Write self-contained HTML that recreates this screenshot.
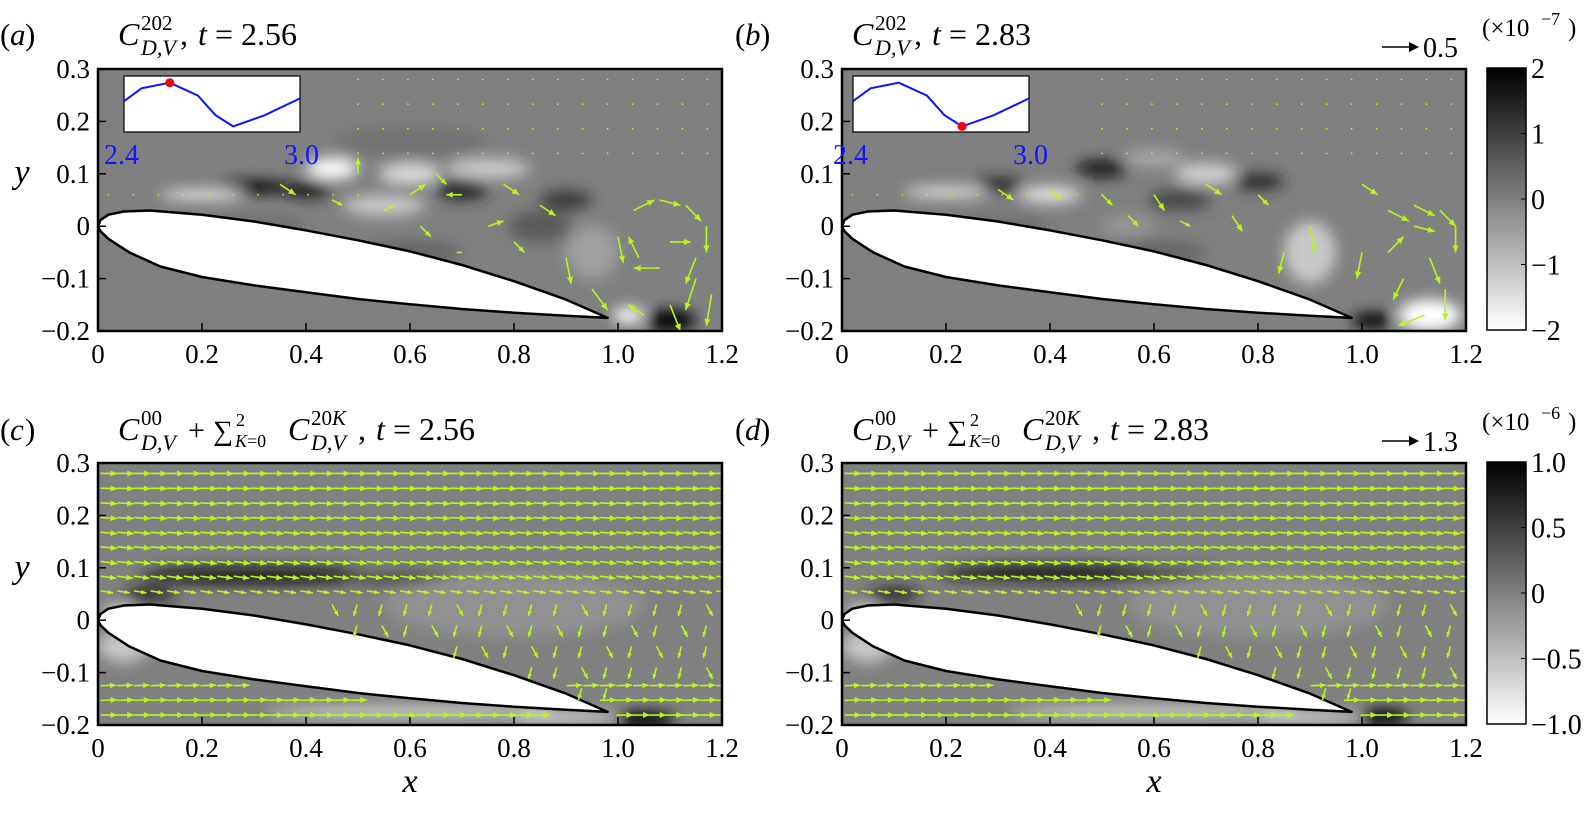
<!DOCTYPE html>
<html><head><meta charset="utf-8"><style>
body{margin:0;background:#fff}
text,tspan{font-family:"Liberation Serif","DejaVu Serif",serif}
</style></head><body>
<svg id="fig" width="1591" height="811" viewBox="0 0 1591 811" xmlns="http://www.w3.org/2000/svg" font-family="Liberation Serif, serif">
<defs>
<filter id="bl" x="-50%" y="-50%" width="200%" height="200%"><feGaussianBlur stdDeviation="7"/></filter>
<linearGradient id="cb" x1="0" y1="0" x2="0" y2="1"><stop offset="0" stop-color="#000"/><stop offset="1" stop-color="#fff"/></linearGradient>
</defs>
<g id="root"></g>
</svg>
<script>
const NS="http://www.w3.org/2000/svg";
const root=document.getElementById('root');
const xTicks=[0,0.2,0.4,0.6,0.8,1.0,1.2];
const xTickLabels=["0","0.2","0.4","0.6","0.8","1.0","1.2"];
const yTicks=[0.3,0.2,0.1,0,-0.1,-0.2];
const yTickLabels=["0.3","0.2","0.1","0","\u22120.1","\u22120.2"];
const cbTop=["2","1","0","\u22121","\u22122"];
const cbBot=["1.0","0.5","0","\u22120.5","\u22121.0"];
const insetX=[0,0.1,0.26,0.42,0.52,0.62,0.8,1];
const insetY=[0.45,0.22,0.12,0.35,0.7,0.9,0.7,0.4];
const airUpper=[[0,0],[0.005,0.012],[0.02,0.022],[0.05,0.028],[0.1,0.03],[0.2,0.022],[0.3,0.009],[0.4,-0.008],[0.5,-0.027],[0.6,-0.048],[0.7,-0.074],[0.8,-0.105],[0.9,-0.14],[0.98,-0.175]];
const airLower=[[0.98,-0.175],[0.9,-0.171],[0.8,-0.165],[0.7,-0.158],[0.6,-0.149],[0.5,-0.139],[0.4,-0.126],[0.3,-0.113],[0.2,-0.097],[0.12,-0.077],[0.06,-0.05],[0.02,-0.024],[0.005,-0.01],[0,0]];
const blobsA=[[0.3,0.075,0.07,0.012,0],[0.2,0.06,0.08,0.008,255],[0.45,0.11,0.05,0.02,255],[0.4,0.07,0.05,0.015,20],[0.6,0.1,0.06,0.02,220],[0.7,0.07,0.05,0.02,40],[0.75,0.11,0.08,0.02,200],[0.9,0.05,0.05,0.02,60],[0.55,0.04,0.08,0.02,200],[0.85,0.0,0.06,0.03,90],[1.1,-0.18,0.05,0.02,0],[1.02,-0.17,0.03,0.015,255],[0.95,-0.05,0.05,0.05,160],[0.6,0.16,0.15,0.03,115],[0.3,0.0,0.1,0.02,110],[0.6,-0.05,0.1,0.02,100]];
const blobsB=[[0.2,0.065,0.08,0.008,255],[0.3,0.08,0.05,0.012,30],[0.5,0.11,0.05,0.015,10],[0.4,0.06,0.06,0.015,230],[0.6,0.13,0.06,0.015,170],[0.7,0.1,0.06,0.02,210],[0.8,0.085,0.05,0.015,40],[0.65,0.05,0.06,0.02,70],[0.9,-0.05,0.05,0.06,200],[1.02,-0.18,0.04,0.015,0],[1.13,-0.17,0.06,0.03,255],[0.55,0.0,0.05,0.02,150],[0.3,0.0,0.1,0.02,110],[0.6,-0.05,0.1,0.02,100]];
const blobsC=[[0.3,0.085,0.22,0.014,15],[0.1,0.05,0.05,0.012,30],[0.04,0.015,0.03,0.01,255],[0.6,0.08,0.12,0.01,60],[0.8,0.03,0.25,0.06,145],[1.05,-0.19,0.06,0.015,0],[0.6,-0.175,0.28,0.008,240],[0.9,-0.185,0.1,0.008,235],[0.05,-0.05,0.05,0.03,200]];
const blobsD=[[0.4,0.09,0.22,0.014,20],[0.1,0.05,0.05,0.012,30],[0.04,0.015,0.03,0.01,255],[0.65,0.085,0.12,0.01,50],[0.8,0.03,0.25,0.06,145],[1.04,-0.185,0.05,0.015,0],[0.6,-0.175,0.28,0.008,240],[0.9,-0.185,0.1,0.008,235],[0.05,-0.05,0.05,0.03,200]];
const vortA=[[1.0,-0.02,0.01,-0.05],[1.03,0.03,0.04,0.02],[1.08,0.05,0.04,-0.01],[1.13,0.04,0.03,-0.03],[1.17,0.0,0.0,-0.05],[1.15,-0.06,-0.02,-0.05],[1.08,-0.08,-0.05,0.0],[1.04,-0.06,-0.02,0.04],[1.1,-0.03,0.04,0.0],[1.18,-0.13,-0.01,-0.06],[1.1,-0.15,0.02,-0.05],[1.05,-0.17,-0.03,0.02],[0.95,-0.12,0.03,-0.04],[0.9,-0.06,0.01,-0.05],[0.85,0.04,0.03,-0.02],[0.78,0.08,0.03,-0.02],[0.7,0.06,-0.03,0.0],[0.6,0.06,0.03,0.02],[0.5,0.1,0.0,0.03],[0.35,0.08,0.03,-0.02],[0.65,0.1,0.02,-0.02],[0.55,0.03,0.02,0.01],[0.75,0.0,0.03,0.01],[0.7,-0.05,-0.01,0.0],[0.45,0.05,0.02,-0.01],[0.62,0.0,0.02,-0.02],[0.8,-0.03,0.02,-0.02],[1.15,-0.1,-0.02,-0.06]];
const vortB=[[1.05,0.03,0.04,-0.02],[1.1,0.04,0.04,-0.02],[1.15,0.03,0.03,-0.03],[1.18,0.0,0.0,-0.05],[1.1,0.0,0.04,-0.01],[1.05,-0.05,0.03,0.03],[1.0,-0.05,-0.01,-0.05],[1.08,-0.1,-0.02,-0.04],[1.16,-0.12,0.0,-0.06],[1.12,-0.17,-0.05,-0.02],[1.0,0.08,0.03,-0.02],[0.9,0.0,0.01,-0.05],[0.8,0.06,0.02,-0.02],[0.7,0.08,0.03,-0.02],[0.6,0.06,0.02,-0.03],[0.5,0.06,0.02,-0.02],[0.4,0.07,0.02,-0.02],[0.3,0.07,0.03,-0.02],[0.85,-0.05,-0.01,-0.04],[0.65,0.01,0.02,-0.01],[0.75,0.02,0.02,-0.03],[0.55,0.02,0.02,-0.02],[1.13,-0.06,0.02,-0.05]];
const rowY=[0.28,0.252,0.224,0.196,0.168,0.14,0.112,0.084,0.056,-0.125,-0.153,-0.181];
const rowU=[0.032,0.032,0.032,0.032,0.032,0.032,0.032,0.03,0.024,0.03,0.032,0.032];
const rowV=[0,-0.001,-0.002,-0.002,-0.003,-0.003,-0.004,-0.004,-0.004,0.001,0.001,0];

function el(t,a,p){const e=document.createElementNS(NS,t);for(const k in a)e.setAttribute(k,a[k]);(p||root).appendChild(e);return e;}
function txt(s,x,y,sz,anchor,p,italic){const t=el('text',{x:x,y:y,'font-size':sz,'text-anchor':anchor||'start','font-family':'Liberation Serif, serif'},p);if(italic)t.setAttribute('font-style','italic');t.textContent=s;return t;}
const SX=520,SY=524,W=624,H=262;
function upperY(x){for(let i=0;i<airUpper.length-1;i++){const a=airUpper[i],b=airUpper[i+1];if(x>=a[0]&&x<=b[0])return a[1]+(b[1]-a[1])*(x-a[0])/(b[0]-a[0]);}return null;}
function lowerY(x){for(let i=0;i<airLower.length-1;i++){const a=airLower[i+1],b=airLower[i];if(x>=a[0]&&x<=b[0])return a[1]+(b[1]-a[1])*(x-a[0])/(b[0]-a[0]);}return null;}
function inside(x,y){if(x<0||x>0.98)return false;const u=upperY(x),l=lowerY(x);return y<u+0.012&&y>l-0.01;}

function panel(id,X0,T0,blobs,vort,rows,cb){
  const g=el('g',{});
  
  
  const px=x=>X0+x*SX, py=y=>T0+(0.3-y)*SY;
  const cid='clip'+id;
  const cp=el('clipPath',{id:cid},g);el('rect',{x:X0,y:T0,width:W,height:H},cp);
  const field=el('g',{'clip-path':'url(#'+cid+')'},g);
  
  
  el('rect',{x:X0,y:T0,width:W,height:H,fill:'#808080'},field);
  const bg=el('g',{filter:'url(#bl)'},field);
  blobs.forEach(b=>{const c=b[4];el('ellipse',{cx:px(b[0]),cy:py(b[1]),rx:b[2]*SX,ry:b[3]*SY,fill:'rgb('+c+','+c+','+c+')'},bg);});
  const pts=airUpper.concat(airLower.slice(1,-1)).map(p=>[px(p[0]),py(p[1])]);
  let d='M'+pts[0][0]+','+pts[0][1];
  for(let i=1;i<pts.length;i++){const b=pts[i];d+=' L'+b[0].toFixed(1)+','+b[1].toFixed(1);}
  d+='Z';
  const af=el('path',{d:d,fill:'#fff',stroke:'#000','stroke-width':2.5,'stroke-linejoin':'round'},field);
  
  
  const ag=el('g',{stroke:'#b8f51c',fill:'#b8f51c'},field);
  
  
  function arrow(x,y,u,v){const x1=px(x),y1=py(y),x2=px(x+u),y2=py(y+v);const L=Math.hypot(x2-x1,y2-y1);if(L<2){el('circle',{cx:x1,cy:y1,r:0.9,stroke:'none'},ag);return;}
    el('line',{x1:x1,y1:y1,x2:x2,y2:y2,'stroke-width':1.6},ag);const ux=(x2-x1)/L,uy=(y2-y1)/L,h=Math.min(7,L*0.4);
    el('path',{d:`M${x2},${y2} L${x2-ux*h-uy*h*0.45},${y2-uy*h+ux*h*0.45} L${x2-ux*h+uy*h*0.45},${y2-uy*h-ux*h*0.45}Z`,stroke:'none'},ag);}
  if(rows){
    rowY.forEach((yy,i)=>{for(let x=0.005;x<1.2;x+=0.032){if(inside(x,yy)||inside(x+rowU[i],yy))continue;arrow(x,yy,rowU[i],rowV[i]);}});
    for(let x=0.45;x<1.2;x+=0.048){for(let y=0.03;y>-0.17;y-=0.04){if(inside(x,y)||y<-0.11&&x>0.98)continue;const s=(Math.round(x*100)+Math.round(y*100))%3;arrow(x,y,s==0?0.012:-0.006,-0.022);}}
  } else {
    for(let x=0.5;x<1.2;x+=0.048){for(let y=0.28;y>0.12;y-=0.047){arrow(x,y,0,0);}}
    for(let x=0.02;x<0.5;x+=0.048){arrow(x,0.06,0,0);}
    vort.forEach(v=>arrow(v[0],v[1],v[2],v[3]));
  }
  el('rect',{x:X0,y:T0,width:W,height:H,fill:'none',stroke:'#000','stroke-width':2.5},g);
  xTicks.forEach((t,i)=>{el('line',{x1:px(t),x2:px(t),y1:T0+H,y2:T0+H-8,stroke:'#000','stroke-width':1.5},g);
    const l=txt(xTickLabels[i],px(t),T0+H+32,27,'middle',g);});
  yTicks.forEach((t,i)=>{el('line',{x1:X0,x2:X0+8,y1:py(t),y2:py(t),stroke:'#000','stroke-width':1.5},g);
    const l=txt(yTickLabels[i],X0-8,py(t)+9,27,'end',g);});
  if(cb){const cx=X0+W+21;const cr=el('rect',{x:cx,y:T0-1,width:39,height:H,fill:'url(#cb)',stroke:'#000','stroke-width':1.5},g);
    
    cb.labels.forEach((s,i)=>{const yy=T0-1+i*H/4;el('line',{x1:cx+39,x2:cx+34,y1:yy,y2:yy,stroke:'#000'},g);
      const l=txt(s,cx+44,yy+10,28,'start',g);});
    txt('(\u00d710',1482,T0-33,25,'start',g);
    txt(cb.exp,1541,T0-44,18,'start',g);
    txt(')',1568,T0-33,25,'start',g);
    el('line',{x1:1382,x2:1412,y1:T0-22,y2:T0-22,stroke:'#000','stroke-width':1.5},g);
    el('path',{d:`M1419,${T0-22} L1409,${T0-27} L1409,${T0-17}Z`,fill:'#000'},g);
    txt(cb.ref,1423,T0-12,28,'start',g);
  }
  return {px,py,g};
}
function CDV(x,y,sup,supItalicK){
  txt('C',x,y,32,'start',null,true);
  const s=txt(sup,x+23,y-15,21,'start');
  if(supItalicK){s.textContent='20';txt('K',x+44,y-15,21,'start',null,true);}
  txt('D,V',x+23,y+10,22,'start',null,true);
}
function titleAB(letter,lx,x,tv){
  txt('(',lx,45,31,'start');txt(letter,lx+10,45,31,'start',null,true);txt(')',lx+25,45,31,'start');
  CDV(x,45,'202');
  txt(',',x+62,45,32,'start');
  txt('t',x+80,45,32,'start',null,true);
  txt('= '+tv,x+97,45,32,'start');
}
function titleCD(letter,lx,x,tv,y){
  txt('(',lx,y,31,'start');txt(letter,lx+10,y,31,'start',null,true);txt(')',lx+25,y,31,'start');
  CDV(x,y,'00');
  txt('+',x+70,y,30,'start');
  txt('\u2211',x+95,y,28,'start');
  txt('2',x+118,y-14,18,'start');
  txt('K',x+117,y+7,18,'start',null,true);txt('=0',x+129,y+7,18,'start');
  CDV(x+170,y,'20K',true);
  txt(',',x+240,y,32,'start');
  txt('t',x+258,y,32,'start',null,true);
  txt('= '+tv,x+275,y,32,'start');
}
titleAB('a',0,118,'2.56');
titleAB('b',735,852,'2.83');
titleCD('c',0,118,'2.56',440);
titleCD('d',735,852,'2.83',440);

panel('a',98,69,blobsA,vortA,false,null);
panel('b',842,69,blobsB,vortB,false,{labels:cbTop,exp:'\u22127',ref:'0.5'});
panel('c',98,463,blobsC,null,true,null);
panel('d',842,463,blobsD,null,true,{labels:cbBot,exp:'\u22126',ref:'1.3'});
[[22,183],[22,578]].forEach(p=>{const t=txt('y',p[0],p[1],34,'middle',null,true);});
[[410,792],[1154,792]].forEach(p=>{const t=txt('x',p[0],p[1],34,'middle',null,true);});
function inset(X,dot){const x0=X,y0=76,w=176,h=56;
  const g=el('g',{});
  el('rect',{x:x0,y:y0,width:w,height:h,fill:'#fff',stroke:'#000','stroke-width':1.2},g);
  const pts=insetX.map((v,i)=>(x0+v*w).toFixed(1)+','+(y0+insetY[i]*h).toFixed(1)).join(' ');
  const pl=el('polyline',{points:pts,fill:'none',stroke:'#0a14ff','stroke-width':2},g);
  const c=el('circle',{cx:x0+insetX[dot]*w,cy:y0+insetY[dot]*h,r:4.5,fill:'#f00'},g);
  const a=txt('2.4',X-20,164,28,'start',g);a.setAttribute('fill','#1414ff');
  const b=txt('3.0',X+160,164,28,'start',g);b.setAttribute('fill','#1414ff');
}
inset(124,2);inset(853,5);
</script>
</body></html>
